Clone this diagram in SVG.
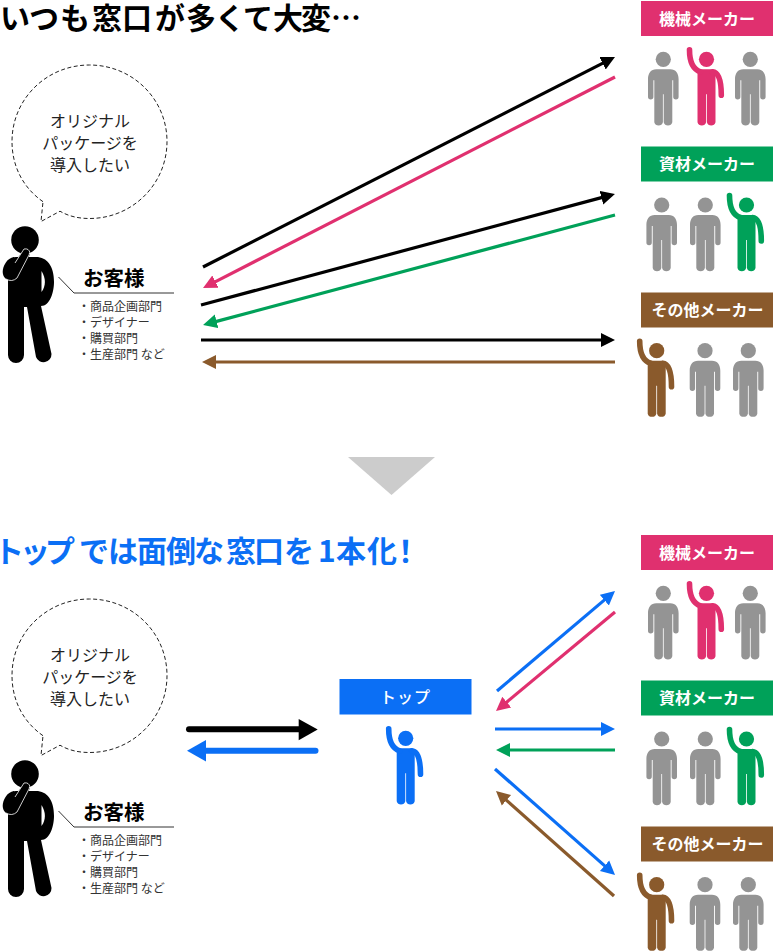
<svg xmlns="http://www.w3.org/2000/svg" width="774" height="951" viewBox="0 0 774 951">
<style>
text{font-family:"Noto Sans CJK JP","Noto Sans",sans-serif}
.title{font-size:30px;font-weight:700}
.bl{font-size:16px;fill:#222;text-anchor:middle}
.cn{font-size:20.5px;font-weight:700;fill:#000}
.li{font-size:12px;fill:#333}
.lb{font-size:16px;font-weight:700;fill:#fff;text-anchor:middle}
.cl{fill:none;stroke-width:3.2}
.k{stroke:#000}.p{stroke:#e0306f}.g{stroke:#00a159}.b{stroke:#8a5a2c}.u{stroke:#0b6ff5}
.arm{fill:none;stroke:currentColor;stroke-width:5.6;stroke-linecap:round}
.cp{color:#e0306f}.cg{color:#00a159}.cb{color:#8a5a2c}.cu{color:#0b6ff5}
</style>
<defs>
<marker id="mk" markerUnits="userSpaceOnUse" markerWidth="16" markerHeight="16" refX="1" refY="8" orient="auto"><path d="M0,1 14,8 0,15z" fill="#000"/></marker>
<marker id="mp" markerUnits="userSpaceOnUse" markerWidth="16" markerHeight="16" refX="1" refY="8" orient="auto"><path d="M0,1 14,8 0,15z" fill="#e0306f"/></marker>
<marker id="mg" markerUnits="userSpaceOnUse" markerWidth="16" markerHeight="16" refX="1" refY="8" orient="auto"><path d="M0,1 14,8 0,15z" fill="#00a159"/></marker>
<marker id="mb" markerUnits="userSpaceOnUse" markerWidth="16" markerHeight="16" refX="1" refY="8" orient="auto"><path d="M0,1 14,8 0,15z" fill="#8a5a2c"/></marker>
<marker id="mu" markerUnits="userSpaceOnUse" markerWidth="16" markerHeight="16" refX="1" refY="8" orient="auto"><path d="M0,1 14,8 0,15z" fill="#0b6ff5"/></marker>
<g id="stand" fill="#949494">
<circle cx="0" cy="0" r="7.6"/>
<path d="M-7,10H7C12.500,10 15.300,14 15.300,20V37.500a2.700,2.700 0 0 1-5.400,0V21L9,21V63a4.500,4.500 0 0 1-8.600,0V35H-.4V63a4.500,4.500 0 0 1-8.600,0V21L-9.900,21V37.500a2.700,2.700 0 0 1-5.400,0V20C-15.300,14-12.500,10-7,10Z"/>
</g>
<g id="raise" fill="currentColor">
<circle cx="0" cy="0" r="7.6"/>
<path d="M-9,12C-9,10.500-8,10-6,10H6C7,10 9,11 9,13V63a4.500,4.500 0 0 1-8.600,0V35H-.4V63a4.500,4.500 0 0 1-8.600,0Z"/>
<path class="arm" d="M-17,-9.500C-17,3-14,10-6,12.500"/>
<path class="arm" d="M6,12.500C12,13 14.800,20 14.800,36"/>
</g>
<g id="customer">
<path d="M43,201.700C22,187 12,165 12,141.500C12,99 46.500,65 89.500,65C132.500,65 167,99 167,141.500C167,184 132.500,218.500 89.500,218.500C79,218.500 69,216.500 60,211.200L41,221.500Z" fill="#fff" stroke="#222" stroke-width="1" stroke-dasharray="4 2.500"/>
<text class="bl" x="90" y="126.500">オリジナル</text>
<text class="bl" x="90" y="148.800">パッケージを</text>
<text class="bl" x="90" y="171">導入したい</text>
<circle cx="25" cy="240" r="13.800"/>
<path d="M8,270V355a8,8 0 0 0 16,0V307h3L36,357a8,8 0 0 0 15.500,-3L41,306C50,306 54,292 54,282C54,266 47,257 36,257H16C10,257 8,264 8,270Z"/>
<path d="M41.500,271C46,278 46,286 41.500,292Z" fill="#fff"/>
<path d="M14,257C7,258 2.700,266 2.700,272C2.700,278 8,281 12,281C16,281 18,279 20,275L30,254L23,250L14,264Z"/>
<path d="M6,279Q12,282.500 17,278L30,253Q29,248 24,249L15,263" fill="none" stroke="#fff" stroke-width="0.8"/>
<path d="M58.500,277L74,293H174" fill="none" stroke="#333" stroke-width="1"/>
<text class="cn" x="83" y="286">お客様</text>
<text class="li" x="78" y="310.500">・商品企画部門</text>
<text class="li" x="78" y="326.500">・デザイナー</text>
<text class="li" x="78" y="342.500">・購買部門</text>
<text class="li" x="78" y="358.500">・生産部門 など</text>
</g>
</defs>
<rect width="774" height="951" fill="#fff"/>
<text class="title" y="29" fill="#000" x="0 29 60 92 122 155 186 215 243 273 301 331">いつも窓口が多くて大変…</text>
<text class="title" y="562" fill="#0b6ff5" x="-6 20 45 79 108 137 166 194 226 254 284 318 336 367 390.500">トップでは面倒な窓口を1本化！</text>
<polygon id="divider" points="348,457 435,457 391.500,495" fill="#ccc"/>
<g id="customer-top"><use href="#customer"/></g>
<g id="customer-bottom"><use href="#customer" y="534"/></g>
<g id="maker-machine-top"><rect x="641" y="1" width="132" height="35" fill="#e0306f"/><text class="lb" x="707" y="25">機械メーカー</text><use href="#stand" x="663.300" y="59.300"/><use href="#raise" class="cp" x="706.500" y="59.300"/><use href="#stand" x="750.300" y="59.300"/></g>
<g id="maker-material-top"><rect x="641" y="146.500" width="132" height="35" fill="#00a159"/><text class="lb" x="707" y="170">資材メーカー</text><use href="#stand" x="661.700" y="205"/><use href="#stand" x="705.300" y="205"/><use href="#raise" class="cg" x="746.500" y="205"/></g>
<g id="maker-other-top"><rect x="641" y="292.500" width="132" height="35" fill="#8a5a2c"/><text class="lb" x="707.500" y="316">その他メーカー</text><use href="#raise" class="cb" x="656.700" y="350.700"/><use href="#stand" x="705" y="350.700"/><use href="#stand" x="748.300" y="350.700"/></g>
<g id="maker-machine-bottom"><rect x="641" y="535" width="132" height="35" fill="#e0306f"/><text class="lb" x="707" y="559">機械メーカー</text><use href="#stand" x="663.300" y="593.300"/><use href="#raise" class="cp" x="706.500" y="593.300"/><use href="#stand" x="750.300" y="593.300"/></g>
<g id="maker-material-bottom"><rect x="641" y="680.500" width="132" height="35" fill="#00a159"/><text class="lb" x="707" y="704">資材メーカー</text><use href="#stand" x="661.700" y="739"/><use href="#stand" x="705.300" y="739"/><use href="#raise" class="cg" x="746.500" y="739"/></g>
<g id="maker-other-bottom"><rect x="641" y="826.500" width="132" height="35" fill="#8a5a2c"/><text class="lb" x="707.500" y="850">その他メーカー</text><use href="#raise" class="cb" x="656.700" y="884.700"/><use href="#stand" x="705" y="884.700"/><use href="#stand" x="748.300" y="884.700"/></g>
<g id="top-company"><rect x="339.500" y="679" width="132" height="35.500" fill="#0b6ff5"/><text class="lb" x="405.500" y="703" style="font-weight:500;letter-spacing:1px">トップ</text><use href="#raise" class="cu" x="405.700" y="738.300"/></g>
<g id="connectors">
<path class="cl k" d="M203,267L603.400,62.900" marker-end="url(#mk)"/>
<path class="cl p" d="M615,77L214.600,282.100" marker-end="url(#mp)"/>
<path class="cl k" d="M201,305L602.400,197.400" marker-end="url(#mk)"/>
<path class="cl g" d="M615,215L215.600,321.600" marker-end="url(#mg)"/>
<path class="cl k" d="M201,340H602" marker-end="url(#mk)"/>
<path class="cl b" d="M615,362H215" marker-end="url(#mb)"/>
<path class="cl u" d="M497,691L605.100,599.400" marker-end="url(#mu)"/>
<path class="cl p" d="M615,612L506,702.700" marker-end="url(#mp)"/>
<path class="cl u" d="M495,729H602" marker-end="url(#mu)"/>
<path class="cl g" d="M615,750H509" marker-end="url(#mg)"/>
<path class="cl u" d="M495,769L605.300,866.400" marker-end="url(#mu)"/>
<path class="cl b" d="M614,896L505.700,799.600" marker-end="url(#mb)"/>
<path d="M189,729.300H300" stroke="#000" stroke-width="6" stroke-linecap="round" fill="none"/>
<polygon points="298.700,719 317.700,729.500 298.700,740.300" fill="#000"/>
<path d="M204,750.700H315.500" stroke="#0b6ff5" stroke-width="6" stroke-linecap="round" fill="none"/>
<polygon points="206,740 187,750.700 206,761.500" fill="#0b6ff5"/>
</g>
</svg>
